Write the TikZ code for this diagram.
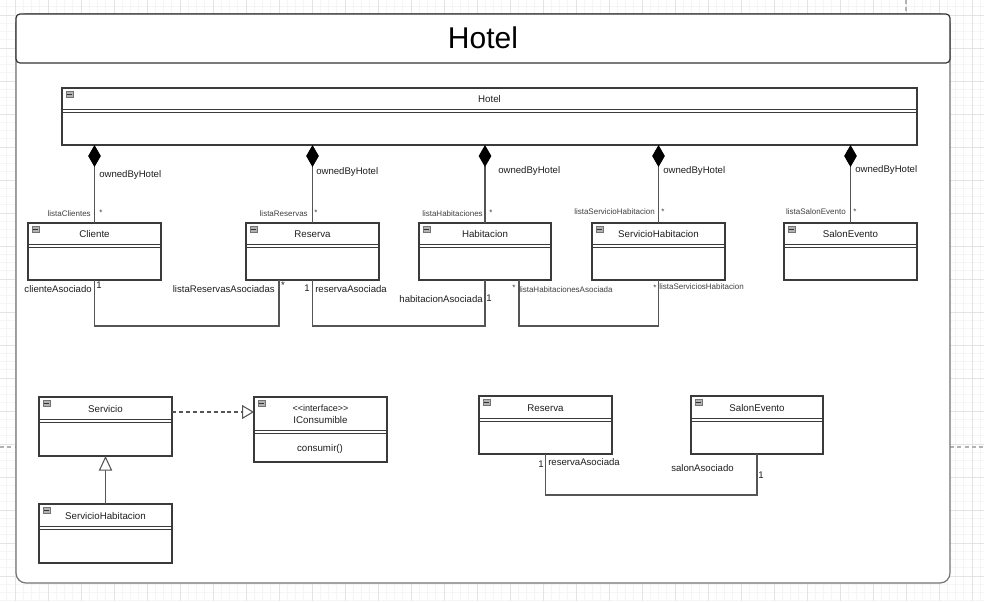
\documentclass[tikz,border=0pt]{standalone}
\usepackage{fontspec}
\setmainfont{Liberation Sans}
\usetikzlibrary{arrows.meta,calc}
\definecolor{linec}{HTML}{3A3A3A}
\definecolor{conc}{HTML}{555555}
\definecolor{txtc}{HTML}{1E1E1E}
\newcommand{\umlclass}[7]{%
  \node[clsbox, minimum width={#4*0.75pt}, minimum height={#5*0.75pt}] (#1) at ({#2+#4/2},{#3+#5/2}) {};
  \draw[clsline] (#2,{#3+#6}) -- ++(#4,0) (#2,{#3+#6+3}) -- ++(#4,0);
  \node[iconbox] (#1-icon) at ({#2+7.5},{#3+6.5}) {};
  \draw[iconminus] ($(#1-icon.west)+(1.2,0)$) -- ($(#1-icon.east)+(-1.2,0)$);
  \node[clsname] (#1-name) at ({#2+#4/2},{#3+#6/2+1}) {#7};
}
\begin{document}
\begin{tikzpicture}[x=0.75pt,y=-0.75pt,
  gridminor/.style={draw=black!4, line width=0.5pt},
  gridmajor/.style={draw=black!11, line width=0.6pt},
  pagebreak/.style={draw=black!30, dashed, dash pattern=on 3pt off 2.5pt, line width=0.8pt},
  frame/.style={draw=black!55, line width=0.9pt, fill=white, rounded corners=7.5pt, inner sep=0pt, outer sep=0pt},
  titlebox/.style={draw=black!80, line width=0.9pt, fill=white, rounded corners=3pt, inner sep=0pt, outer sep=0pt},
  titletext/.style={font=\fontsize{22.5}{26}\selectfont, text=black, inner sep=0pt},
  clsbox/.style={draw=linec, line width=0.8pt, fill=white, inner sep=0pt, outer sep=0pt},
  clsline/.style={draw=linec, line width=0.7pt},
  iconbox/.style={draw=black!55, fill=black!30, line width=0.3pt, minimum width=5.2pt, minimum height=4.6pt, inner sep=0pt},
  iconminus/.style={draw=black!80, line width=0.5pt},
  clsname/.style={font=\fontsize{7.3}{9}\selectfont, text=txtc, inner sep=0pt, align=center},
  lbl/.style={font=\fontsize{7.2}{9}\selectfont, text=txtc, inner sep=0pt},
  smalllbl/.style={font=\fontsize{6}{7}\selectfont, text=black!75, inner sep=0pt},
  comp/.style={draw=conc, line width=0.8pt, -{Diamond[length=16.5pt,width=9.5pt,fill=black,color=black]}},
  assoc/.style={draw=conc, line width=0.8pt},
  gener/.style={draw=conc, line width=0.8pt, -{Triangle[open,length=11pt,width=10pt,fill=white]}},
  realiz/.style={draw=conc, line width=0.8pt, dash pattern=on 3pt off 2.2pt, -{Triangle[open,length=9pt,width=10.5pt,fill=white]}}
]
\useasboundingbox (0,0) rectangle (984,601);
\fill[white] (0,0) rectangle (984,601);
% background grid
\foreach \k in {-2,...,118} \draw[gridminor] ({15+8.25*\k},0) -- ({15+8.25*\k},601);
\foreach \k in {-2,...,72} \draw[gridminor] (0,{15+8.25*\k}) -- (984,{15+8.25*\k});
\foreach \k in {0,...,29} \draw[gridmajor] ({15+33*\k},0) -- ++(0,601);
\foreach \k in {0,...,18} \draw[gridmajor] (0,{15+33*\k}) -- ++(984,0);
\draw[pagebreak] (906,0) -- (906,14);
\draw[pagebreak] (0,447) -- (16,447);
\draw[pagebreak] (950,447) -- (984,447);

% outer frame
\node[frame, minimum width={934*0.75pt}, minimum height={569*0.75pt}] (frame) at (483,298.5) {};
\node[titlebox, minimum width={934*0.75pt}, minimum height={49*0.75pt}] (titlebar) at (483,38.5) {};
\node[titletext] (title) at (483,38) {Hotel};

% classes
\umlclass{hotel}{62}{88}{855}{57}{21}{Hotel}
\umlclass{cli}{28}{223}{133}{57}{21}{Cliente}
\umlclass{res}{246}{223}{133}{57}{21}{Reserva}
\umlclass{hab}{419}{223}{132}{57}{21}{Habitacion}
\umlclass{sh}{592}{223}{133}{57}{21}{ServicioHabitacion}
\umlclass{se}{784}{223}{133}{57}{21}{SalonEvento}
\umlclass{serv}{39}{397}{133}{59}{22}{Servicio}
\umlclass{icons}{254}{397}{133}{65}{33}{{\fontsize{6.8}{9}\selectfont\textless\kern0pt\textless\kern0pt interface\textgreater\kern0pt\textgreater}\\IConsumible}
\node[clsname] (icons-op) at (320,449) {consumir()};
\umlclass{shb}{39}{504}{133}{59}{22}{ServicioHabitacion}
\umlclass{resb}{479}{396}{133}{58}{22}{Reserva}
\umlclass{seb}{691}{396}{132}{58}{22}{SalonEvento}

% compositions
\draw[comp] (cli.north) -- (cli.north |- hotel.south);
\draw[comp] (res.north) -- (res.north |- hotel.south);
\draw[comp] (hab.north) -- (hab.north |- hotel.south);
\draw[comp] (sh.north) -- (sh.north |- hotel.south);
\draw[comp] (se.north) -- (se.north |- hotel.south);

\node[lbl, anchor=west] (ob1) at (99,175) {ownedByHotel};
\node[lbl, anchor=west] (ob2) at (316,172) {ownedByHotel};
\node[lbl, anchor=west] (ob3) at (498,171) {ownedByHotel};
\node[lbl, anchor=west] (ob4) at (663,171) {ownedByHotel};
\node[lbl, anchor=west] (ob5) at (855,170) {ownedByHotel};

\node[smalllbl, anchor=east] (r1) at (91,214) {listaClientes};
\node[smalllbl] (m1) at (101,213) {*};
\node[smalllbl, anchor=east] (r2) at (308,214) {listaReservas};
\node[smalllbl] (m2) at (316,213) {*};
\node[smalllbl, anchor=east] (r3) at (483,214) {listaHabitaciones};
\node[smalllbl] (m3) at (491,213) {*};
\node[smalllbl, anchor=east] (r4) at (655,212) {listaServicioHabitacion};
\node[smalllbl] (m4) at (663,212) {*};
\node[smalllbl, anchor=east] (r5) at (846,212) {listaSalonEvento};
\node[smalllbl] (m5) at (855,212) {*};

% associations row
\draw[assoc] (cli.south) -- ++(0,46) -| ($(res.south)+(-33.5,0)$);
\draw[assoc] (res.south) -- ++(0,46) -| (hab.south);
\draw[assoc] ($(hab.south)+(34,0)$) -- ++(0,46) -| (sh.south);

\node[lbl, anchor=east] (a1) at (92,289) {clienteAsociado};
\node[lbl] (a1m) at (99,285) {1};
\node[lbl, anchor=east] (a2) at (275,289) {listaReservasAsociadas};
\node[lbl] (a2m) at (283,285) {*};
\node[lbl] (a3m) at (307,288) {1};
\node[lbl, anchor=west] (a3) at (315,289) {reservaAsociada};
\node[lbl, anchor=east] (a4) at (483,299) {habitacionAsociada};
\node[lbl] (a4m) at (489,298) {1};
\node[smalllbl] (a5m) at (514,288) {*};
\node[smalllbl, anchor=west] (a5) at (519,290) {listaHabitacionesAsociada};
\node[smalllbl] (a6m) at (655,288) {*};
\node[smalllbl, anchor=west] (a6) at (659,287) {listaServiciosHabitacion};

% bottom relations
\draw[realiz] ($(serv.north east)+(0,15)$) -- ($(icons.north west)+(0,15)$);
\draw[gener] (shb.north) -- (serv.south);
\draw[assoc] (resb.south) -- ++(0,41) -| (seb.south);

\node[lbl] (b1m) at (541,464) {1};
\node[lbl, anchor=west] (b1) at (548,462) {reservaAsociada};
\node[lbl, anchor=west] (b2) at (671,468) {salonAsociado};
\node[lbl] (b2m) at (761,475) {1};
\end{tikzpicture}
\end{document}
